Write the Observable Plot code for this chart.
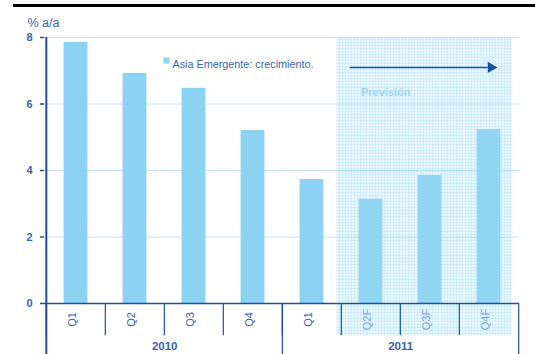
<!DOCTYPE html>
<html><head><meta charset="utf-8">
<script src="https://cdn.jsdelivr.net/npm/d3@7"></script>
<script src="https://cdn.jsdelivr.net/npm/@observablehq/plot@0.6"></script>
<style>
body{margin:0;background:#fff;font-family:"Liberation Sans",Arial,sans-serif}
#wrap{position:relative;width:535px;height:354px;overflow:hidden}
#topline{position:absolute;left:13px;top:4px;width:522px;height:3px;background:#000}
</style></head><body><div id="wrap"><div id="topline"></div></div>
<script>
const keys = ["2010Q1","2010Q2","2010Q3","2010Q4","2011Q1","2011Q2F","2011Q3F","2011Q4F"];
const quarterLabels = ["Q1","Q2","Q3","Q4","Q1","Q2F","Q3F","Q4F"];
const quarterYears = ["2010","2010","2010","2010","2011","2011","2011","2011"];
const growth = [7.85, 6.92, 6.47, 5.2, 3.73, 3.13, 3.85, 5.23];
const isForecast = [false,false,false,false,false,true,true,true];
const yTicks = [0,2,4,6,8];
const yearLabels = ["2010","2011"];
const yearCenterKeys = ["2010Q2","2011Q2F"];
const seriesLabel = "Asia Emergente: crecimiento.";
const forecastLabel = "Previsión";
const yLabel = "% a/a";

const rows = keys.map((k,i)=>({key:k, label:quarterLabels[i], year:quarterYears[i], value:growth[i], forecast:isForecast[i]}));
const fc = rows.filter(d=>d.forecast);

const W=535, H=354, mL=44, mR=16, mT=37, mB=51;
const bw = (W-mL-mR)/keys.length;
const dark = "#1d4f9f", txt = "#3a63ad", grid = "#c3e4f5", barFill = "#8cd3f3";
const font = "Liberation Sans, Arial, sans-serif";

const plot = Plot.plot({
  width: W, height: H,
  marginLeft: mL, marginRight: mR, marginTop: mT, marginBottom: mB,
  style: {fontFamily: font, background: "transparent", overflow: "visible"},
  x: {domain: keys, padding: 0, axis: null},
  y: {domain: [0,8], axis: null},
  marks: [
    Plot.ruleY(yTicks.filter(t=>t>0), {stroke: grid, strokeWidth: 1}),
    Plot.barY(rows, {x:"key", y:"value", fill: barFill, insetLeft: 17.6, insetRight: 17.6}),
    Plot.barY([fc[0]], {x:"key", y1: -0.97, y2: 8, fill: "url(#prevpat)", insetLeft: -4.5, insetRight: 0}),
    Plot.barY([fc[1]], {x:"key", y1: -0.97, y2: 8, fill: "url(#prevpat)", insetLeft: 0, insetRight: 0}),
    Plot.barY([fc[2]], {x:"key", y1: -0.97, y2: 8, fill: "url(#prevpat)", insetLeft: 0, insetRight: 6.5}),
    // separators under x axis
    Plot.ruleX(rows, {x:"key", dx: -bw/2, y1: 0, y2: -0.97, stroke: dark, strokeWidth: 1.2}),
    Plot.ruleX(rows.filter((d,i)=>i===4), {x:"key", dx: -bw/2, y1: 0, y2: -1.6, stroke: dark, strokeWidth: 1.2}),
    Plot.ruleX([rows[7]], {x:"key", dx: bw/2, y1: 0, y2: -1.6, stroke: dark, strokeWidth: 1.2}),
    // y axis line
    Plot.ruleX([rows[0]], {x:"key", dx: -bw/2, y1: -1.6, y2: 8, stroke: dark, strokeWidth: 2}),
    Plot.ruleY([0], {stroke: dark, strokeWidth: 1.5}),
    Plot.axisY({ticks: yTicks, tickSize: 4, tickPadding: 8, label: null, stroke: dark, fill: txt, fontSize: 11, fontWeight: "bold", strokeWidth: 1.5}),
    // quarter labels
    Plot.text(rows, {x:"key", text:"label", frameAnchor:"bottom", dy: 16, rotate: -90, fontSize: 11,
      fill: d => d.forecast ? "#7da3d8" : txt}),
    // year labels
    Plot.text(yearLabels, {x: (d,i)=>yearCenterKeys[i], text: d=>d, frameAnchor:"bottom", dy: 46, dx: bw/2, fontSize: 11.5, fontWeight: 600, fill: txt}),
    // y label
    Plot.text([yLabel], {frameAnchor:"top-left", dx: -17, dy: -19, textAnchor:"start", fontSize: 12.5, fill: txt}),
    // legend
    Plot.dot([seriesLabel], {frameAnchor:"top-left", dx: 122, dy: 23, symbol:"square", r: 3.4, fill: barFill, stroke: "none"}),
    Plot.text([seriesLabel], {frameAnchor:"top-left", dx: 128, dy: 23, textAnchor:"start", fontSize: 10.8, fill: txt, letterSpacing: "0.1px"}),
    // forecast annotation
    Plot.arrow([fc[0]], {x1:"key", x2: () => fc[2].key, y1: 7.1, y2: 7.1, insetStart: -20.6, insetEnd: 2, headLength: 0, stroke: dark, strokeWidth: 1.6}),
    Plot.dot([fc[2]], {x:"key", y: 7.1, dx: 2, symbol: "triangle", rotate: 90, r: 4.2, fill: dark, stroke: "none"}),
    Plot.text([forecastLabel], {x: () => fc[0].key, y: 6.35, dx: -10, textAnchor:"start", fontSize: 11, fontWeight:"bold", fill: "#9dd6f2"})
  ]
});

// pattern for forecast shading
const svg = d3.select(plot);
const defs = svg.insert("defs", ":first-child");
const pat = defs.append("pattern").attr("id","prevpat").attr("patternUnits","userSpaceOnUse").attr("width",3).attr("height",3);
pat.append("rect").attr("width",3).attr("height",3).attr("fill","rgba(160,220,246,0.22)");
pat.append("path").attr("d","M0,0.5H3M0.5,0V3").attr("stroke","rgba(150,214,245,0.28)").attr("stroke-width",1);

plot.style.position = "absolute";
plot.style.left = "0px";
plot.style.top = "0px";
document.getElementById("wrap").appendChild(plot);
</script></body></html>
